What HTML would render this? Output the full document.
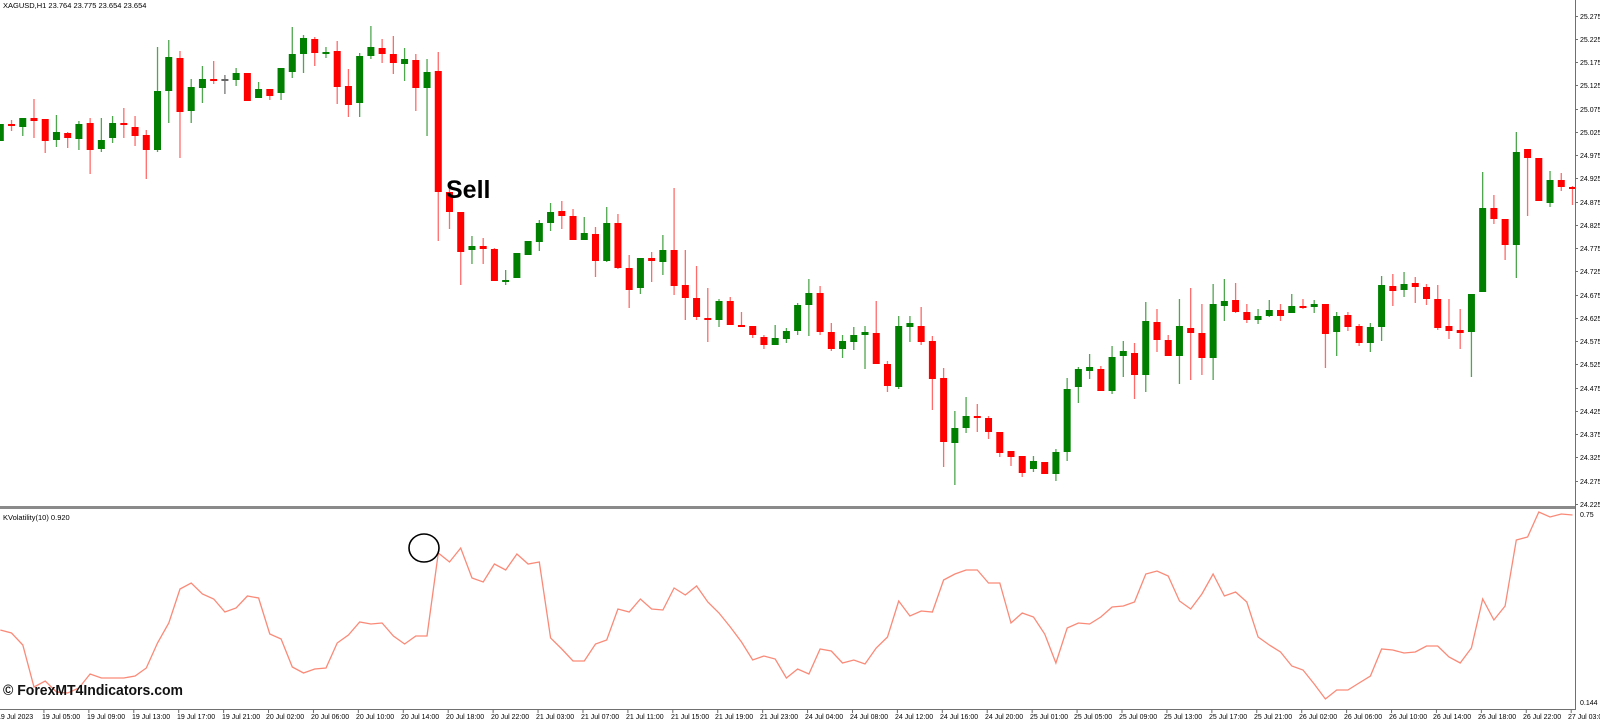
<!DOCTYPE html>
<html><head><meta charset="utf-8"><style>
html,body{margin:0;padding:0;background:#fff;width:1600px;height:721px;overflow:hidden}
svg{display:block}
text{font-family:"Liberation Sans",sans-serif}
</style></head><body>
<svg id="s" width="1600" height="721" viewBox="0 0 1600 721" xmlns="http://www.w3.org/2000/svg">
<rect width="1600" height="721" fill="#fff"/>
<g id="candles"></g>
<polyline id="ind" fill="none" stroke="#fa8a78" stroke-width="1.3" points=""/>
<!-- separators / axes -->
<rect x="0" y="506" width="1576" height="3" fill="#8a8a8a"/>
<line x1="0" y1="709.5" x2="1576" y2="709.5" stroke="#707070" stroke-width="1"/>
<line x1="1575.5" y1="0" x2="1575.5" y2="710" stroke="#707070" stroke-width="1"/>
<g id="ticks" stroke="#707070" stroke-width="1"></g>
<text x="3" y="8" font-size="7.5" fill="#000">XAGUSD,H1  23.764 23.775 23.654 23.654</text>
<text x="3" y="520" font-size="7.5" fill="#000">KVolatility(10) 0.920</text>
<text x="446" y="198" font-size="25" font-weight="bold" fill="#000">Sell</text>
<ellipse cx="424" cy="548" rx="15" ry="14" fill="none" stroke="#000" stroke-width="1.6"/>
<text x="3" y="695" font-size="14.5" font-weight="bold" fill="#111" textLength="180" lengthAdjust="spacingAndGlyphs">© ForexMT4Indicators.com</text>
<g font-size="7" fill="#000">
<text x="1580" y="19">25.275</text>
<text x="1580" y="42">25.225</text>
<text x="1580" y="65">25.175</text>
<text x="1580" y="88">25.125</text>
<text x="1580" y="112">25.075</text>
<text x="1580" y="135">25.025</text>
<text x="1580" y="158">24.975</text>
<text x="1580" y="181">24.925</text>
<text x="1580" y="205">24.875</text>
<text x="1580" y="228">24.825</text>
<text x="1580" y="251">24.775</text>
<text x="1580" y="274">24.725</text>
<text x="1580" y="298">24.675</text>
<text x="1580" y="321">24.625</text>
<text x="1580" y="344">24.575</text>
<text x="1580" y="367">24.525</text>
<text x="1580" y="391">24.475</text>
<text x="1580" y="414">24.425</text>
<text x="1580" y="437">24.375</text>
<text x="1580" y="460">24.325</text>
<text x="1580" y="484">24.275</text>
<text x="1580" y="507">24.225</text>
<text x="1580" y="517">0.75</text>
<text x="1580" y="705">0.144</text>
</g>
<g font-size="7" fill="#000">
<text x="-3" y="719">19 Jul 2023</text>
<text x="42" y="719">19 Jul 05:00</text>
<text x="87" y="719">19 Jul 09:00</text>
<text x="132" y="719">19 Jul 13:00</text>
<text x="177" y="719">19 Jul 17:00</text>
<text x="222" y="719">19 Jul 21:00</text>
<text x="266" y="719">20 Jul 02:00</text>
<text x="311" y="719">20 Jul 06:00</text>
<text x="356" y="719">20 Jul 10:00</text>
<text x="401" y="719">20 Jul 14:00</text>
<text x="446" y="719">20 Jul 18:00</text>
<text x="491" y="719">20 Jul 22:00</text>
<text x="536" y="719">21 Jul 03:00</text>
<text x="581" y="719">21 Jul 07:00</text>
<text x="626" y="719">21 Jul 11:00</text>
<text x="671" y="719">21 Jul 15:00</text>
<text x="715" y="719">21 Jul 19:00</text>
<text x="760" y="719">21 Jul 23:00</text>
<text x="805" y="719">24 Jul 04:00</text>
<text x="850" y="719">24 Jul 08:00</text>
<text x="895" y="719">24 Jul 12:00</text>
<text x="940" y="719">24 Jul 16:00</text>
<text x="985" y="719">24 Jul 20:00</text>
<text x="1030" y="719">25 Jul 01:00</text>
<text x="1074" y="719">25 Jul 05:00</text>
<text x="1119" y="719">25 Jul 09:00</text>
<text x="1164" y="719">25 Jul 13:00</text>
<text x="1209" y="719">25 Jul 17:00</text>
<text x="1254" y="719">25 Jul 21:00</text>
<text x="1299" y="719">26 Jul 02:00</text>
<text x="1344" y="719">26 Jul 06:00</text>
<text x="1389" y="719">26 Jul 10:00</text>
<text x="1433" y="719">26 Jul 14:00</text>
<text x="1478" y="719">26 Jul 18:00</text>
<text x="1523" y="719">26 Jul 22:00</text>
<text x="1568" y="719">27 Jul 03:00</text>
</g>
</svg>
<script>
var C=[
['g',124,141,124,141],['r',124,126,120,131],['g',118,127,118,136],['r',118,121,99,138],['r',119,141,119,153],
['g',132,140,115,147],['r',133,138,132,148],['g',124,139,121,150],['r',123,150,118,174],['g',140,149,118,152],
['g',123,138,116,143],['r',123,125,108,138],['r',127,136,116,146],['r',135,150,130,179],['g',91,150,47,152],
['g',57,91,40,123],['r',58,112,51,158],['g',87,111,79,123],['g',79,88,66,103],['r',79,80,61,84],
['k',79,80,75,94],['g',73,80,68,86],['r',73,101,73,101],['g',89,98,82,98],['r',89,96,89,100],
['g',68,93,68,100],['g',54,72,27,78],['g',38,54,35,73],['r',39,53,37,66],['g',52,53,47,58],
['r',51,87,41,104],['r',86,105,69,117],['g',56,103,53,117],['g',47,56,26,59],['r',48,54,39,63],
['r',54,63,36,74],['g',59,64,48,81],['r',60,88,54,111],['g',72,88,59,136],['r',71,192,52,241],
['r',192,212,185,229],['r',212,252,212,285],['g',246,250,236,264],['r',246,249,238,264],['r',249,281,248,281],
['g',280,281,270,285],['g',253,278,253,278],['g',241,255,241,255],['g',223,242,220,251],['g',212,223,203,231],
['r',211,216,201,229],['r',216,240,209,240],['g',233,240,217,240],['r',234,261,227,277],['g',223,261,207,262],
['r',223,268,214,269],['r',268,290,255,308],['g',258,288,258,294],['r',258,261,252,282],['g',250,262,235,275],
['r',250,286,188,295],['r',285,298,250,320],['r',298,317,266,320],['r',318,320,288,342],['g',301,320,299,327],
['r',301,325,297,325],['r',325,327,312,327],['r',326,335,326,338],['r',337,345,335,349],['g',338,345,325,345],
['g',331,339,328,343],['g',305,331,303,335],['g',293,305,279,336],['r',293,332,286,335],['r',332,349,323,351],
['g',341,349,335,358],['g',335,342,327,350],['g',332,335,326,369],['r',333,364,301,364],['r',364,386,361,392],
['g',326,387,316,389],['g',323,327,316,342],['r',326,342,307,345],['r',341,379,336,410],['r',378,442,368,467],
['g',428,443,411,485],['g',416,428,397,433],['r',416,418,404,432],['r',418,432,416,439],['r',432,453,432,457],
['r',451,457,451,466],['r',456,473,456,477],['g',461,469,456,472],['r',462,474,462,474],['g',452,474,449,481],
['g',389,452,378,461],['g',369,387,367,403],['g',367,371,354,379],['r',369,391,366,391],['g',357,391,346,394],
['g',351,356,341,377],['r',353,375,343,399],['g',321,375,302,392],['r',322,340,309,352],['r',340,356,335,356],
['g',326,356,299,384],['r',328,333,288,380],['r',333,358,304,375],['g',304,358,284,380],['g',301,306,279,321],
['r',300,312,283,313],['r',312,320,304,323],['g',316,320,309,324],['g',310,316,300,317],['r',310,316,304,321],
['g',306,313,294,313],['r',306,308,299,309],['g',304,307,300,313],['r',304,334,304,368],['g',316,332,312,356],
['r',315,327,312,331],['r',326,343,324,346],['g',327,343,323,352],['g',285,327,276,341],['r',286,291,274,306],
['g',284,290,272,297],['r',283,287,277,303],['r',287,299,284,305],['r',299,328,285,330],['r',326,331,299,339],
['r',330,333,309,349],['g',294,332,294,377],['g',208,292,172,292],['r',208,219,195,224],['r',219,245,219,260],
['g',152,245,132,278],['r',149,158,149,216],['r',158,201,158,201],['g',180,203,171,207],['r',180,187,173,191],
['r',187,188,186,205]];
var I=[630,633,645,687,681,692,693,688,674,678,678,678,676,668,643,623,589,583,594,599,612,608,596,598,634,639,667,673,669,668,643,635,622,624,623,636,644,636,636,553,562,548,578,582,564,570,554,564,562,638,649,661,661,644,640,609,612,599,609,610,588,595,586,602,613,627,642,660,656,659,678,669,674,649,651,663,660,664,648,637,601,616,611,612,580,574,570,570,583,583,623,613,617,634,663,628,623,624,617,607,606,602,574,571,576,601,609,594,574,596,592,602,637,645,652,666,670,684,699,690,690,683,676,649,650,653,652,646,646,657,663,648,599,620,606,540,537,512,517,514,515];
var NS='http://www.w3.org/2000/svg',g=document.getElementById('candles'),h='';
var col={g:'#007f00',r:'#ff0000',k:'#666666'},wc={g:'#4fa64f',r:'#ff6a6a',k:'#777'};
function X(n){return 0.3+11.23*n;}
for(var i=0;i<C.length;i++){var c=C[i],x=X(i);
h+='<line x1="'+x+'" x2="'+x+'" y1="'+c[3]+'" y2="'+c[4]+'" stroke="'+wc[c[0]]+'" stroke-width="1.3"/>';
var t=c[1],b=Math.max(c[2],c[1]+2);
h+='<rect x="'+(x-3.5)+'" y="'+t+'" width="7" height="'+(b-t)+'" fill="'+col[c[0]]+'"/>';}
g.innerHTML=h;
var p=[];for(var i=0;i<I.length;i++)p.push(X(i).toFixed(1)+','+I[i]);
document.getElementById('ind').setAttribute('points',p.join(' '));
var tk='';var pv=[19,42,65,88,112,135,158,181,205,228,251,274,298,321,344,367,391,414,437,460,484,507];
for(var i=0;i<pv.length;i++){var y=pv[i]-2.5;tk+='<line x1="1575" x2="1578" y1="'+y+'" y2="'+y+'"/>';}
for(var k=0;k<36;k++){var x=-1+44.92*k;tk+='<line x1="'+x+'" x2="'+x+'" y1="709" y2="713"/>';}
document.getElementById('ticks').innerHTML=tk;
</script>
</body></html>
